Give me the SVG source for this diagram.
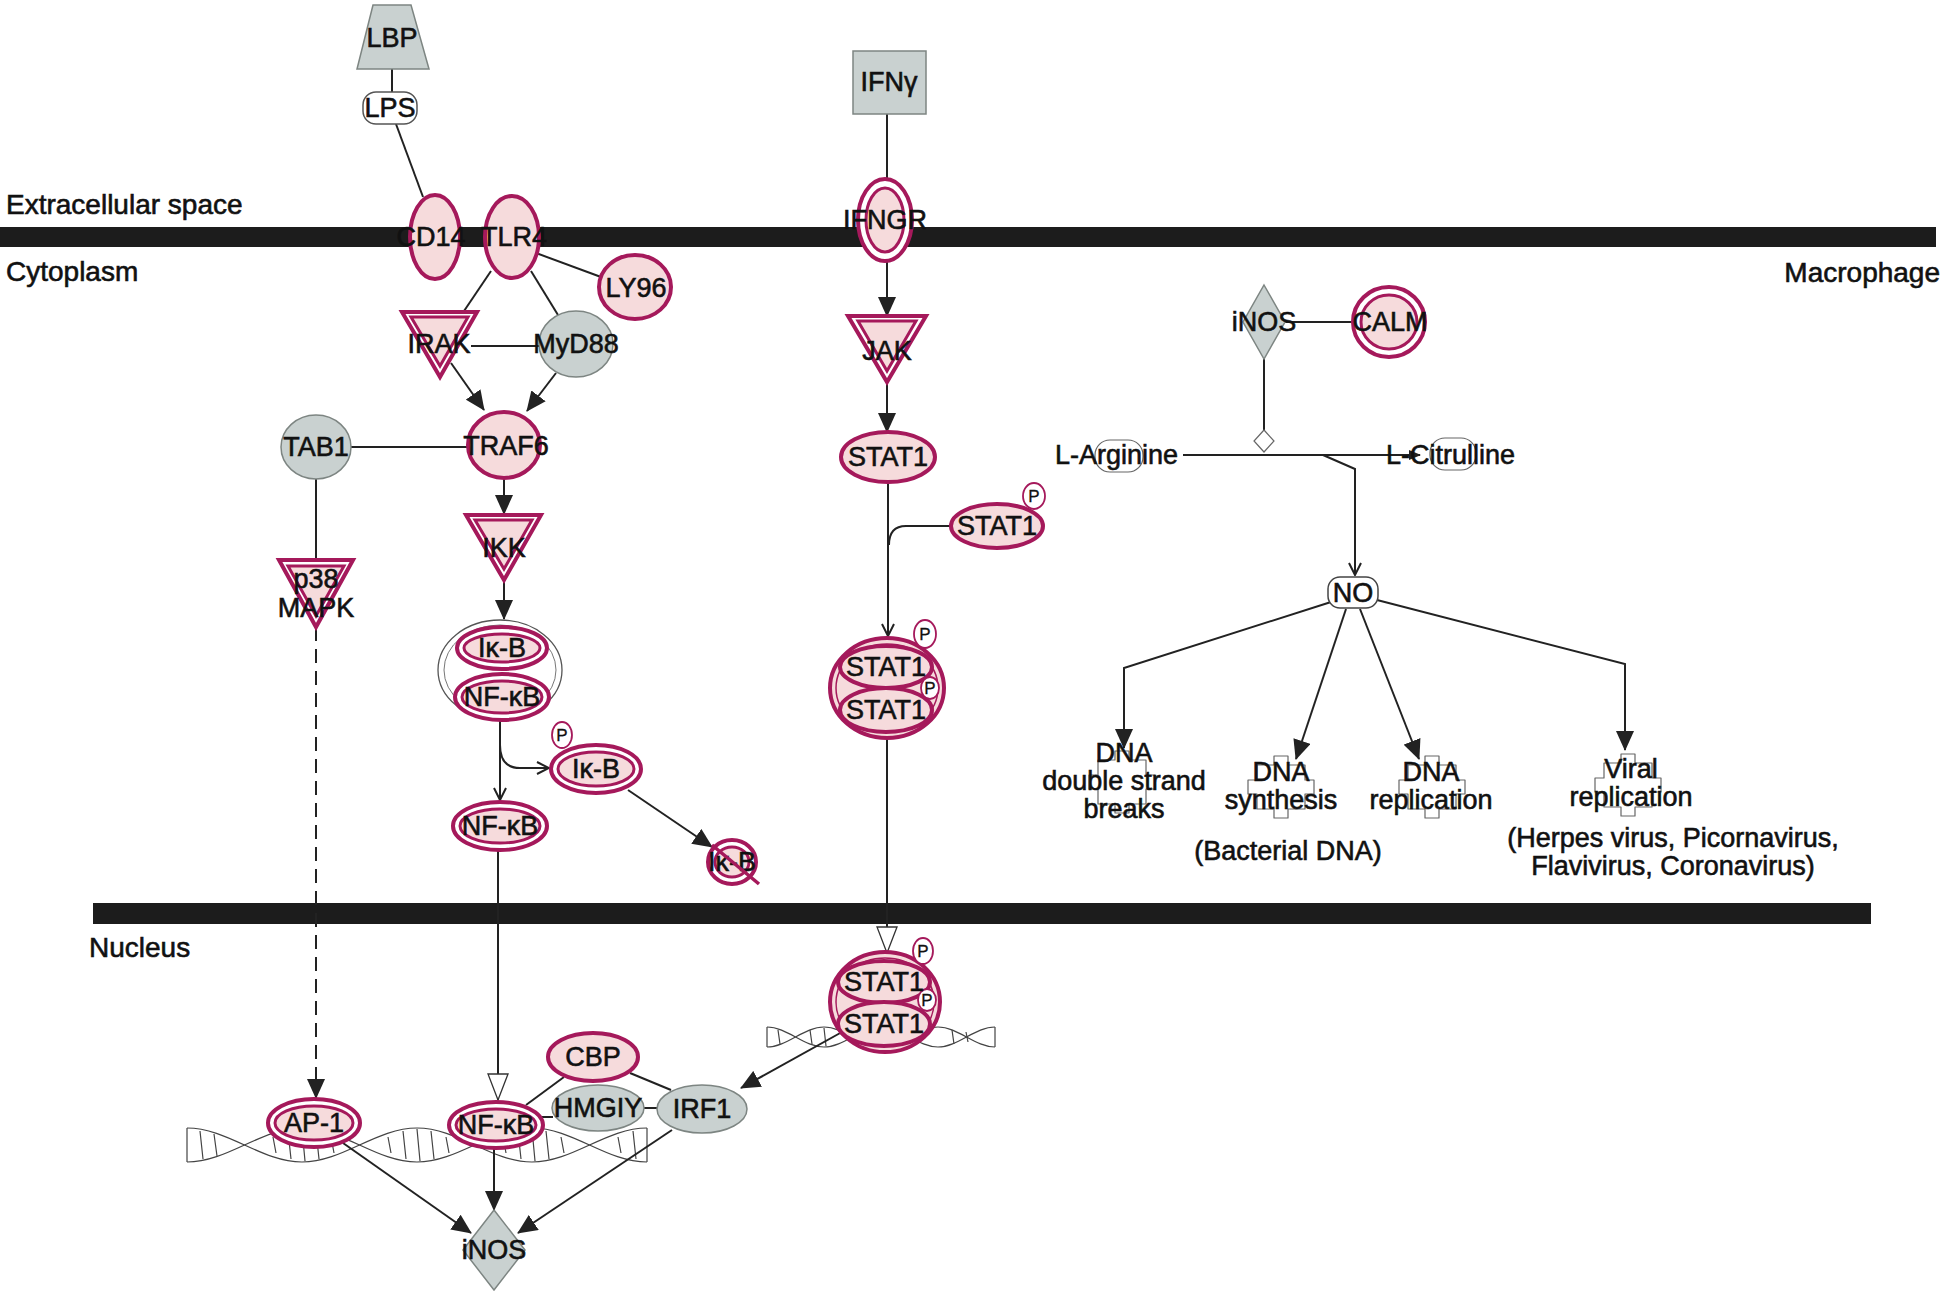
<svg xmlns="http://www.w3.org/2000/svg" width="1946" height="1295" viewBox="0 0 1946 1295">
<style>
.mg{fill:#f6dbdc;stroke:#a5195b;stroke-width:4}
.mgo{fill:#fff;stroke:#a5195b;stroke-width:4}
.mgi{fill:#f6dbdc;stroke:#a5195b;stroke-width:3}
.gr{fill:#c9d1d0;stroke:#7d8582;stroke-width:1.5}
.pm{fill:#fff;stroke:#a5195b;stroke-width:1.8}
.t{font-family:"Liberation Sans",Arial,sans-serif;font-size:27px;fill:#111;stroke:#111;stroke-width:0.6;text-anchor:middle}
.ts{font-size:17px;stroke-width:0.3}
.lbl{font-family:"Liberation Sans",Arial,sans-serif;font-size:28px;fill:#111;stroke:#111;stroke-width:0.6}
.c{fill:none;stroke:#222;stroke-width:2}
.bar{fill:#1c1c1c}
.fn{fill:none;stroke:#666;stroke-width:1.2;stroke-linejoin:round}
.hx{fill:none;stroke:#444;stroke-width:1.2}
.mt{fill:#fff;stroke:#666;stroke-width:1.2}
</style>
<defs>
<marker id="af" markerUnits="userSpaceOnUse" markerWidth="20" markerHeight="18" refX="19" refY="9" orient="auto"><path d="M0,0 L20,9 L0,18 z" fill="#222"/></marker>
<marker id="afs" markerUnits="userSpaceOnUse" markerWidth="12" markerHeight="10" refX="11" refY="5" orient="auto"><path d="M0,0 L12,5 L0,10 z" fill="#222"/></marker>
<marker id="ac" markerUnits="userSpaceOnUse" markerWidth="14" markerHeight="14" refX="13" refY="7" orient="auto"><path d="M1,1 L13,7 L1,13" fill="none" stroke="#222" stroke-width="2"/></marker>
<marker id="at" markerUnits="userSpaceOnUse" markerWidth="28" markerHeight="22" refX="27" refY="11" orient="auto"><path d="M1,1 L27,11 L1,21 z" fill="#fff" stroke="#333" stroke-width="1.3"/></marker>
<path id="puz" d="M-24,-22 H-7 V-31 H7 V-22 H24 V-7 H33 V7 H24 V22 H7 V31 H-7 V22 H-24 V7 H-33 V-7 H-24 Z"/>
</defs>
<rect width="1946" height="1295" fill="#fff"/>

<g id="membranes">
<rect class="bar" x="0" y="227" width="1936" height="20"/>
<rect class="bar" x="93" y="903" width="1778" height="21"/>
</g>

<g id="region-labels">
<text class="lbl" x="6" y="214">Extracellular space</text>
<text class="lbl" x="6" y="281">Cytoplasm</text>
<text class="lbl" x="1940" y="282" text-anchor="end">Macrophage</text>
<text class="lbl" x="89" y="957">Nucleus</text>
</g>

<g id="dna-helices">
<path class="hx" d="M187,1128 C228,1128 261,1162 302,1162 S376,1128 417,1128 S491,1162 532,1162 S606,1128 647,1128"/>
<path class="hx" d="M187,1162 C228,1162 261,1128 302,1128 S376,1162 417,1162 S491,1128 532,1128 S606,1162 647,1162"/>
<path class="hx" d="M187,1128 L187,1162 M647,1128 L647,1162 M200,1131 L203,1159 M214,1134 L217,1156 M273,1137 L276,1153 M288,1131 L291,1159 M302,1129 L305,1161 M316,1131 L319,1159 M331,1137 L334,1153 M388,1137 L391,1153 M403,1131 L406,1159 M417,1129 L420,1161 M431,1131 L434,1159 M446,1137 L449,1153 M503,1137 L506,1153 M518,1131 L521,1159 M532,1129 L535,1161 M546,1131 L549,1159 M561,1137 L564,1153 M618,1137 L621,1153 M633,1131 L636,1159"/>
<path class="hx" d="M767,1027 C787,1027 804,1047 824,1047 S861,1027 881,1027 S918,1047 938,1047 S975,1027 995,1027"/>
<path class="hx" d="M767,1047 C787,1047 804,1027 824,1027 S861,1047 881,1047 S918,1027 938,1027 S975,1047 995,1047"/>
<path class="hx" d="M767,1027 L767,1047 M995,1027 L995,1047 M778,1030 L780,1044 M810,1030 L812,1044 M824,1028 L826,1046 M952,1030 L954,1044 M966,1032 L968,1042"/>
</g>

<g id="function-shapes">
<use href="#puz" class="fn" x="1122" y="782"/>
<use href="#puz" class="fn" x="1281" y="787"/>
<use href="#puz" class="fn" x="1432" y="787"/>
<use href="#puz" class="fn" x="1628" y="785"/>
</g>

<g id="connectors">
<path class="c" d="M392,69 L392,92"/>
<path class="c" d="M396,124 L423,197"/>
<path class="c" d="M536,253 L601,277"/>
<path class="c" d="M491,271 L462,314"/>
<path class="c" d="M531,271 L558,315"/>
<path class="c" d="M471,346 L540,346"/>
<path class="c" d="M451,363 L484,410" marker-end="url(#af)"/>
<path class="c" d="M556,373 L527,411" marker-end="url(#af)"/>
<path class="c" d="M351,447 L470,447"/>
<path class="c" d="M316,479 L316,562"/>
<path class="c" d="M316,627 L316,1098" stroke-dasharray="14 8" marker-end="url(#af)"/>
<path class="c" d="M504,477 L504,514" marker-end="url(#af)"/>
<path class="c" d="M504,575 L504,619" marker-end="url(#af)"/>
<path class="c" d="M500,720 L500,800" marker-end="url(#ac)"/>
<path class="c" d="M500,745 Q500,768 520,768 L549,768" marker-end="url(#ac)"/>
<path class="c" d="M628,790 L712,847" marker-end="url(#af)"/>
<path class="c" d="M498,850 L498,1100" marker-end="url(#at)"/>
<path class="c" d="M887,114 L887,179"/>
<path class="c" d="M887,261 L887,316" marker-end="url(#af)"/>
<path class="c" d="M887,376 L887,432" marker-end="url(#af)"/>
<path class="c" d="M888,482 L888,636" marker-end="url(#ac)"/>
<path class="c" d="M951,526 L906,526 Q889,526 889,545"/>
<path class="c" d="M887,739 L887,953" marker-end="url(#at)"/>
<path class="c" d="M842,1032 L741,1088" marker-end="url(#af)"/>
<path class="c" d="M526,1105 L564,1077"/>
<path class="c" d="M541,1117 L553,1117"/>
<path class="c" d="M630,1073 L671,1090"/>
<path class="c" d="M644,1108 L658,1108"/>
<path class="c" d="M343,1143 L471,1233" marker-end="url(#af)"/>
<path class="c" d="M494,1148 L494,1210" marker-end="url(#af)"/>
<path class="c" d="M672,1130 L518,1233" marker-end="url(#af)"/>
<path class="c" d="M1285,322 L1353,322"/>
<path class="c" d="M1264,359 L1264,430"/>
<path class="mt" d="M1264,430 L1274,441 L1264,452 L1254,441 z"/>
<path class="c" d="M1183,455 L1420,455" marker-end="url(#afs)"/>
<path class="c" d="M1323,455 L1355,469 L1355,575" marker-end="url(#ac)"/>
<path class="c" d="M1331,602 L1124,668 L1124,748" marker-end="url(#af)"/>
<path class="c" d="M1346,609 L1296,759" marker-end="url(#af)"/>
<path class="c" d="M1360,609 L1419,759" marker-end="url(#af)"/>
<path class="c" d="M1377,600 L1625,664 L1625,750" marker-end="url(#af)"/>
</g>

<g id="LBP"><path class="gr" d="M373,5 L411,5 L429,69 L357,69 z" stroke="#555"/><text class="t" x="392" y="47">LBP</text></g>
<g id="LPS"><rect x="363" y="92" width="54" height="32" rx="13" fill="#fff" stroke="#555" stroke-width="1.5"/><text class="t" x="390" y="117">LPS</text></g>
<g id="CD14"><ellipse class="mg" cx="435" cy="237" rx="25" ry="42"/><text class="t" x="431" y="246">CD14</text></g>
<g id="TLR4"><ellipse class="mg" cx="512" cy="237" rx="27" ry="41"/><text class="t" x="514" y="246">TLR4</text></g>
<g id="LY96"><ellipse class="mg" cx="635" cy="287" rx="36" ry="32"/><text class="t" x="636" y="297">LY96</text></g>
<g id="IRAK"><path class="mgo" d="M402,312 L477,312 L440,377 z"/><path class="mgi" d="M411,317 L468,317 L440,366 z"/><text class="t" x="439" y="353">IRAK</text></g>
<g id="MyD88"><ellipse class="gr" cx="576" cy="344" rx="37" ry="33"/><text class="t" x="576" y="353">MyD88</text></g>
<g id="TAB1"><ellipse class="gr" cx="316" cy="447" rx="35" ry="32"/><text class="t" x="316" y="456">TAB1</text></g>
<g id="TRAF6"><ellipse class="mg" cx="504" cy="445" rx="36" ry="33"/><text class="t" x="506" y="455">TRAF6</text></g>
<g id="p38MAPK"><path class="mgo" d="M279,560 L353,560 L316,627 z"/><path class="mgi" d="M288,566 L344,566 L316,616 z"/><text class="t" x="316" y="588">p38</text><text class="t" x="316" y="617">MAPK</text></g>
<g id="IKK"><path class="mgo" d="M466,515 L541,515 L504,580 z"/><path class="mgi" d="M475,520 L532,520 L504,569 z"/><text class="t" x="504" y="557">IKK</text></g>
<g id="IkB-NFkB-complex">
<ellipse cx="500" cy="670" rx="62" ry="50" fill="#fff" stroke="#555" stroke-width="1.3"/>
<ellipse cx="500" cy="670" rx="56" ry="45" fill="none" stroke="#777" stroke-width="1"/>
<ellipse class="mgo" cx="502" cy="648" rx="45" ry="21"/><ellipse class="mgi" cx="502" cy="648" rx="38" ry="14"/>
<ellipse class="mgo" cx="502" cy="697" rx="47" ry="23"/><ellipse class="mgi" cx="502" cy="697" rx="40" ry="16"/>
<text class="t" x="502" y="657">Iκ-B</text><text class="t" x="502" y="706">NF-κB</text>
</g>
<g id="IkB-P"><ellipse class="mgo" cx="596" cy="769" rx="45" ry="24"/><ellipse class="mgi" cx="596" cy="769" rx="38" ry="17"/><text class="t" x="596" y="778">Iκ-B</text><ellipse class="pm" cx="562" cy="735" rx="10" ry="13"/><text class="t ts" x="562" y="741">P</text></g>
<g id="NFkB-cyto"><ellipse class="mgo" cx="500" cy="826" rx="47" ry="24"/><ellipse class="mgi" cx="500" cy="826" rx="40" ry="17"/><text class="t" x="500" y="835">NF-κB</text></g>
<g id="IkB-degraded"><ellipse class="mgo" cx="732" cy="862" rx="24" ry="22"/><ellipse class="mgi" cx="732" cy="862" rx="17" ry="15"/><text class="t" x="732" y="871">Iκ-B</text><path d="M712,845 L759,884" stroke="#a5195b" stroke-width="3.5"/></g>

<g id="IFNg"><rect class="gr" x="853" y="51" width="73" height="63" stroke="#555"/><text class="t" x="889" y="91">IFNγ</text></g>
<g id="IFNGR"><ellipse class="mgo" cx="885" cy="220" rx="27" ry="41"/><ellipse class="mgi" cx="885" cy="220" rx="19" ry="32"/><text class="t" x="885" y="229">IFNGR</text></g>
<g id="JAK"><path class="mgo" d="M848,316 L926,316 L887,382 z"/><path class="mgi" d="M858,321 L916,321 L887,371 z"/><text class="t" x="887" y="360">JAK</text></g>
<g id="STAT1"><ellipse class="mg" cx="888" cy="457" rx="47" ry="25"/><text class="t" x="888" y="466">STAT1</text></g>
<g id="STAT1-P"><ellipse class="mg" cx="997" cy="526" rx="46" ry="22"/><text class="t" x="997" y="535">STAT1</text><ellipse class="pm" cx="1034" cy="496" rx="11" ry="13"/><text class="t ts" x="1034" y="502">P</text></g>
<g id="STAT1-dimer-cyto">
<ellipse class="mg" cx="887" cy="688" rx="57" ry="50"/>
<ellipse cx="887" cy="688" rx="51" ry="44" fill="#f6dbdc" stroke="#a5195b" stroke-width="1.5"/>
<ellipse class="mg" cx="886" cy="667" rx="46" ry="21" stroke-width="3.5"/>
<ellipse class="mg" cx="886" cy="710" rx="46" ry="22" stroke-width="3.5"/>
<ellipse class="pm" cx="930" cy="688" rx="9" ry="11"/><text class="t ts" x="930" y="694">P</text>
<text class="t" x="886" y="676">STAT1</text><text class="t" x="886" y="719">STAT1</text>
<ellipse class="pm" cx="925" cy="634" rx="11" ry="14"/><text class="t ts" x="925" y="640">P</text>
</g>
<g id="STAT1-dimer-nucleus">
<ellipse class="mg" cx="885" cy="1002" rx="55" ry="50"/>
<ellipse cx="885" cy="1002" rx="49" ry="44" fill="#f6dbdc" stroke="#a5195b" stroke-width="1.5"/>
<ellipse class="mg" cx="884" cy="982" rx="46" ry="21" stroke-width="3.5"/>
<ellipse class="mg" cx="884" cy="1024" rx="46" ry="22" stroke-width="3.5"/>
<ellipse class="pm" cx="927" cy="1000" rx="9" ry="11"/><text class="t ts" x="927" y="1006">P</text>
<text class="t" x="884" y="991">STAT1</text><text class="t" x="884" y="1033">STAT1</text>
<ellipse class="pm" cx="923" cy="951" rx="10" ry="13"/><text class="t ts" x="923" y="957">P</text>
</g>

<g id="CBP"><ellipse class="mg" cx="593" cy="1057" rx="45" ry="24"/><text class="t" x="593" y="1066">CBP</text></g>
<g id="HMGIY"><ellipse class="gr" cx="598" cy="1108" rx="46" ry="23"/><text class="t" x="598" y="1117">HMGIY</text></g>
<g id="IRF1"><ellipse class="gr" cx="702" cy="1109" rx="45" ry="24"/><text class="t" x="702" y="1118">IRF1</text></g>
<g id="NFkB-nucleus"><ellipse class="mgo" cx="496" cy="1125" rx="47" ry="23"/><ellipse class="mgi" cx="496" cy="1125" rx="40" ry="16"/><text class="t" x="496" y="1134">NF-κB</text></g>
<g id="AP-1"><ellipse class="mgo" cx="314" cy="1123" rx="46" ry="24"/><ellipse class="mgi" cx="314" cy="1123" rx="39" ry="17"/><text class="t" x="314" y="1132">AP-1</text></g>
<g id="iNOS-nucleus"><path class="gr" d="M494,1210 L525,1250 L494,1290 L463,1250 z"/><text class="t" x="494" y="1259">iNOS</text></g>

<g id="iNOS-cyto"><path class="gr" d="M1264,285 L1285,322 L1264,359 L1243,322 z"/><text class="t" x="1264" y="331">iNOS</text></g>
<g id="CALM"><ellipse class="mgo" cx="1389" cy="322" rx="36" ry="35"/><ellipse class="mgi" cx="1389" cy="322" rx="28" ry="27"/><text class="t" x="1390" y="331">CALM</text></g>
<g id="L-Arginine"><rect x="1095" y="440" width="48" height="32" rx="15" fill="none" stroke="#666" stroke-width="1.2"/><text class="t" x="1055" y="464" style="text-anchor:start">L-Arginine</text></g>
<g id="L-Citrulline"><rect x="1430" y="438" width="46" height="32" rx="15" fill="none" stroke="#666" stroke-width="1.2"/><text class="t" x="1386" y="464" style="text-anchor:start">L-Citrulline</text></g>
<g id="NO"><rect x="1328" y="577" width="50" height="31" rx="12" fill="#fff" stroke="#444" stroke-width="1.5"/><text class="t" x="1353" y="602">NO</text></g>

<g id="DNA-double-strand-breaks"><text class="t" x="1124" y="762">DNA</text><text class="t" x="1124" y="790">double strand</text><text class="t" x="1124" y="818">breaks</text></g>
<g id="DNA-synthesis"><text class="t" x="1281" y="781">DNA</text><text class="t" x="1281" y="809">synthesis</text></g>
<g id="DNA-replication"><text class="t" x="1431" y="781">DNA</text><text class="t" x="1431" y="809">replication</text></g>
<g id="Viral-replication"><text class="t" x="1631" y="778">Viral</text><text class="t" x="1631" y="806">replication</text></g>
<g id="notes">
<text class="t" x="1288" y="860">(Bacterial DNA)</text>
<text class="t" x="1673" y="847">(Herpes virus, Picornavirus,</text>
<text class="t" x="1673" y="875">Flavivirus, Coronavirus)</text>
</g>
</svg>
